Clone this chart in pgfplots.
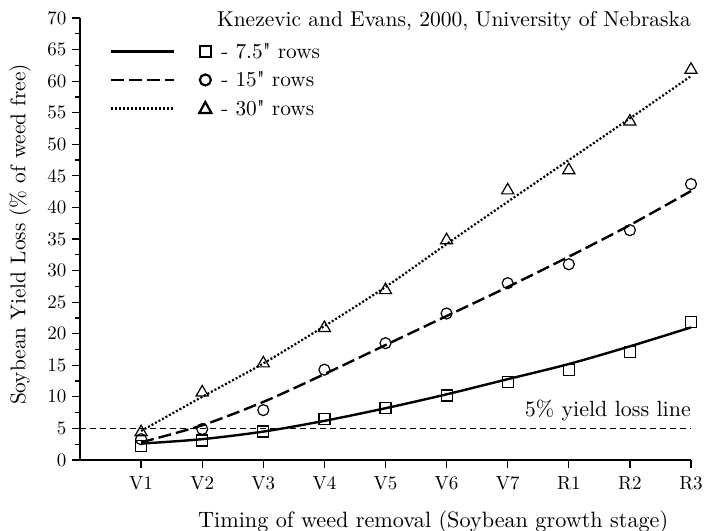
\documentclass[border=0pt]{standalone}
\usepackage{fontspec}
\setmainfont{lmroman10-regular}[Extension=.otf]
\usepackage{pgfplots}
\usepackage{pgfplotstable}
\pgfplotsset{compat=1.18}

\pgfplotstableread{
x  d7   f7   d15  f15  d30  f30
1  2.2  2.6  3.3  2.8  4.4  4.6
2  3.1  3.3  4.9  5.5  10.7 10.0
3  4.5  4.5  7.9  9.2  15.3 15.3
4  6.5  6.2  14.3 13.6 20.9 21.2
5  8.2  8.2  18.5 18.2 26.9 27.4
6  10.2 10.4 23.2 22.8 34.8 34.2
7  12.4 12.8 28.0 27.4 42.7 40.9
8  14.3 15.2 31.0 32.2 45.9 47.5
9  17.1 18.0 36.4 37.2 53.6 54.1
10 21.9 21.0 43.7 42.6 61.8 60.8
}\data

\newcommand{\lblfont}{\fontsize{21.3bp}{24bp}\selectfont}
\newcommand{\xlfont}{\fontsize{22.2bp}{24bp}\selectfont}
\newcommand{\tckfont}{\fontsize{19bp}{22bp}\selectfont}

\pgfplotsset{
  legsq/.style={legend image code/.code={\draw[##1] (0bp,0bp) -- (63bp,0bp);
    \draw[solid, line width=2.2bp] (88.5bp,-5.5bp) rectangle (99.5bp,5.5bp);}},
  legci/.style={legend image code/.code={\draw[##1] (0bp,0bp) -- (63bp,0bp);
    \draw[solid, line width=2.2bp] (94bp,0bp) circle (5.5bp);}},
  legtr/.style={legend image code/.code={\draw[##1] (0bp,0bp) -- (63bp,0bp);
    \draw[solid, line width=2.2bp, line join=miter] (94bp,6.5bp) -- (100bp,-4.5bp) -- (88bp,-4.5bp) -- cycle;}},
}

\begin{document}
\begin{tikzpicture}
\begin{axis}[
  scale only axis, width=611bp, height=442bp,
  xmin=0, xmax=10, ymin=0, ymax=70,
  axis x line*=bottom, axis y line*=left,
  axis line style={line width=2bp},
  xtick={1,...,10},
  xticklabels={{\tckfont V1},{\tckfont V2},{\tckfont V3},{\tckfont V4},{\tckfont V5},{\tckfont V6},{\tckfont V7},{\tckfont R1},{\tckfont R2},{\tckfont R3}},
  ytick={0,5,...,70},
  yticklabel={\tckfont\pgfmathprintnumber{\tick}},
  minor ytick={2.5,7.5,...,67.5},
  tick align=outside,
  major tick length=8bp, minor tick length=4.5bp,
  every tick/.style={line width=1.2bp, black},
  /pgf/number format/assume math mode=true,
  yticklabel style={font=\tckfont, xshift=-2bp},
  xticklabel style={font=\tckfont, yshift=-5bp},
  xlabel={Timing of weed removal (Soybean growth stage)},
  ylabel={Soybean Yield Loss (\% of weed free)},
  xlabel style={font=\xlfont, at={(axis description cs:0.578,0)}, anchor=base, yshift=-67bp},
  ylabel style={font=\lblfont, at={(axis description cs:-0.098,0.51)}, anchor=center},
  legend style={at={(axis description cs:0.049,0.948)}, anchor=north west,
    draw=none, fill=none, font=\lblfont, inner sep=0pt, row sep=8bp,
    /tikz/every odd column/.style={column sep=7bp}},
  legend cell align=left,
  clip=false,
]
\addplot[black, line width=2.4bp, smooth, legsq]
  table[x=x, y=f7] {\data};
\addlegendentry{- 7.5\textquotedbl{} rows}
\addplot[black, line width=2.4bp, smooth, dash pattern=on 13bp off 5bp, legci]
  table[x=x, y=f15] {\data};
\addlegendentry{- 15\textquotedbl{} rows}
\addplot[black, line width=2.2bp, smooth, dash pattern=on 2bp off 2bp, legtr]
  table[x=x, y=f30] {\data};
\addlegendentry{- 30\textquotedbl{} rows}

\addplot[black, line width=1.2bp, dash pattern=on 6bp off 4bp, forget plot]
  coordinates {(0,5) (10,5)};

\addplot[only marks, mark=square, mark size=5.5bp, mark options={line width=1.2bp, black, fill=white}, forget plot]
  table[x=x, y=d7] {\data};
\addplot[only marks, mark=o, mark size=5.5bp, mark options={line width=1.2bp, black, fill=white}, forget plot]
  table[x=x, y=d15] {\data};
\addplot[only marks, mark=triangle, mark size=7bp, mark options={line width=1.2bp, black, fill=white}, forget plot]
  table[x=x, y=d30] {\data};

\node[anchor=base east, inner sep=0pt, font=\fontsize{21.5bp}{24bp}\selectfont] at (axis cs:10,68.6) {Knezevic and Evans, 2000, University of Nebraska};
\node[anchor=base east, inner sep=0pt, font=\fontsize{22bp}{24bp}\selectfont] at (axis cs:10,6.86) {5\% yield loss line};
\end{axis}
\pgfresetboundingbox
\path (-80bp,-71bp) rectangle (624bp,460bp);
\end{tikzpicture}
\end{document}
